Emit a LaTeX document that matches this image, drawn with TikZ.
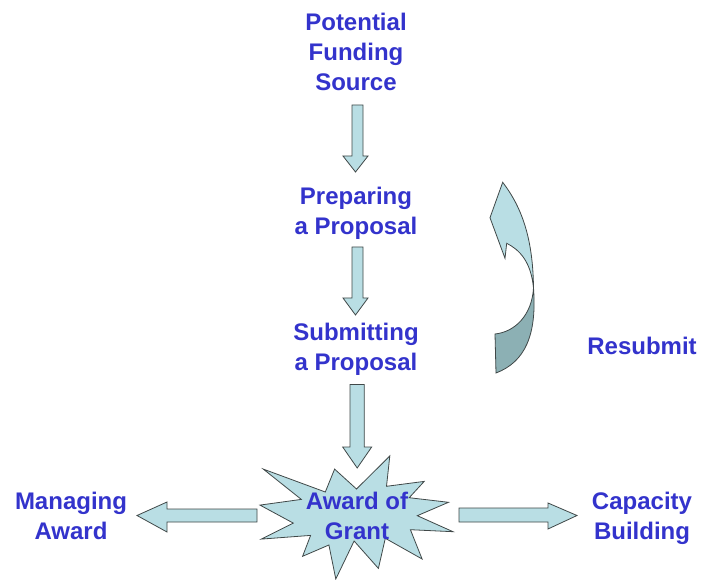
\documentclass[tikz,border=0pt]{standalone}
\usepackage{fontspec}
\setmainfont{Liberation Sans}
\definecolor{txtblue}{RGB}{51,51,204}
\definecolor{fillblue}{RGB}{185,222,228}
\definecolor{darkface}{RGB}{140,176,180}
\definecolor{edgegray}{RGB}{64,72,72}
\begin{document}
\begin{tikzpicture}[x=1pt,y=-1pt,
  lbl/.style={font=\fontsize{24}{30}\selectfont\bfseries, text=txtblue, align=center, inner sep=0pt, anchor=base},
  blockshape/.style={fill=fillblue, draw=edgegray, line width=0.8pt, line join=miter},
  backface/.style={fill=darkface, draw=edgegray, line width=0.8pt}]
\useasboundingbox (0,0) rectangle (702,580);
\fill[white] (0,0) rectangle (702,580);

% down arrows
\draw[blockshape] (352,105) -- (363,105) -- (363,156) -- (368,156) -- (355.5,172) -- (343,156) -- (352,156) -- cycle;
\draw[blockshape] (352,247) -- (363,247) -- (363,298) -- (368,298) -- (355.5,315) -- (343,298) -- (352,298) -- cycle;
\draw[blockshape] (350,384.5) -- (364.3,384.5) -- (364.3,447) -- (371.7,447) -- (357.2,468) -- (342.7,447) -- (350,447) -- cycle;

% left and right arrows
\draw[blockshape] (257,509) -- (257,522) -- (167,522) -- (167,532) -- (137,515.5) -- (167,502) -- (167,509) -- cycle;
\draw[blockshape] (459,508) -- (548,508) -- (548,503) -- (577,515.5) -- (548,529) -- (548,522) -- (459,522) -- cycle;

% explosion
\draw[blockshape] (356.5,489.0) -- (389.8,456.0) -- (386.5,486.3) -- (424.2,481.4) -- (409.2,497.7)
  -- (448.5,502.3) -- (417.3,515.7) -- (453.0,531.7) -- (410.4,529.7) -- (422.1,559.0)
  -- (385.3,538.3) -- (378.4,568.4) -- (354.1,541.0) -- (335.8,579.0) -- (328.9,545.0)
  -- (302.6,556.3) -- (310.6,535.4) -- (261.2,539.1) -- (293.3,523.1) -- (260.0,505.1)
  -- (301.3,499.4) -- (263.3,469.1) -- (325.3,492.0) -- (334.6,469.1) -- cycle;

% curved resubmit arrow
\draw[backface] (533.5,288) .. controls (532,315) and (515,332) .. (495,334)
  -- (496,373) .. controls (525,362) and (537,335) .. (533.5,288) -- cycle;
\draw[blockshape] (502.7,182.3) -- (490,217.7) -- (505,258.3) -- (506.7,243.3)
  .. controls (520,250) and (531,262) .. (533.5,288)
  .. controls (533,235) and (520,205) .. (502.7,182.3) -- cycle;

% labels (base = baseline of last line)
\node[lbl] (src) at (356,91) {Potential\\Funding\\Source};
\node[lbl] (prep) at (356,234.5) {Preparing\\a Proposal};
\node[lbl] (sub) at (356,370.5) {Submitting\\a Proposal};
\node[lbl] (resub) at (642,354.5) {Resubmit};
\node[lbl] (award) at (357,539.5) {Award of\\Grant};
\node[lbl] (manage) at (71,539.5) {Managing\\Award};
\node[lbl] (cap) at (642,539.5) {Capacity\\Building};
\end{tikzpicture}
\end{document}
